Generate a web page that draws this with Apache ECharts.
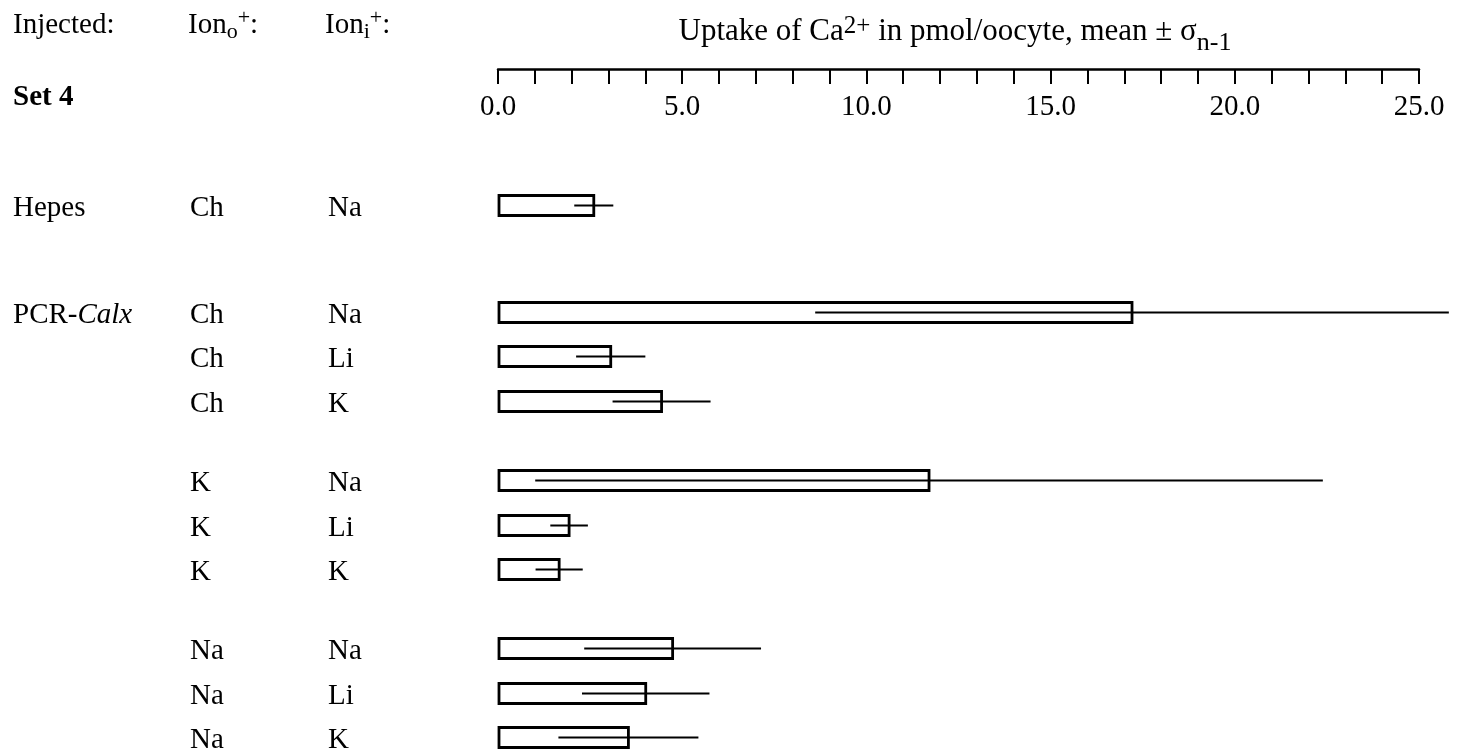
<!DOCTYPE html>
<html>
<head>
<meta charset="utf-8">
<script src="https://cdn.jsdelivr.net/npm/echarts@6/dist/echarts.min.js"></script>
<style>
html,body{margin:0;padding:0;background:#fff;}
#chart{width:1457px;height:752px;}
</style>
</head>
<body>
<div id="chart"></div>
<script>
// ---- data ----
const injected = ['Hepes', 'PCR-Calx', '', '', '', '', '', '', '', ''];
const ionOut   = ['Ch', 'Ch', 'Ch', 'Ch', 'K', 'K', 'K', 'Na', 'Na', 'Na'];
const ionIn    = ['Na', 'Na', 'Li', 'K', 'Na', 'Li', 'K', 'Na', 'Li', 'K'];
const meanUptake = [2.60, 17.21, 3.06, 4.44, 11.70, 1.93, 1.66, 4.74, 4.01, 3.54];
const sdUptake   = [0.53, 8.60, 0.94, 1.33, 10.69, 0.51, 0.64, 2.40, 1.73, 1.90];
const tickMajor = [0, 5, 10, 15, 20, 25];

// ---- layout ----
const FONT = "'Liberation Serif', 'DejaVu Serif', serif";
const FS = 29;
const gridLeft = 498, gridRight = 1419, gridTop = 69, bottomY = 752;
const firstRowY = 205, rowStep = 44.5;
const colX = [13, 190, 328];

// row positions (in row units): extra gap when a new group starts
const rowPos = [];
let p = 0;
for (let i = 0; i < meanUptake.length; i++) {
  if (i > 0) {
    p += 1;
    if (injected[i] !== '') p += 1.4;
    else if (ionOut[i] !== ionOut[i - 1]) p += 0.78;
  }
  rowPos.push(p);
}
const yMin = -(firstRowY - gridTop) / rowStep;
const yMax = yMin + (bottomY - gridTop) / rowStep;

const seriesData = meanUptake.map((m, i) => [m, rowPos[i], sdUptake[i]]);

function renderItem(params, api) {
  const i = params.dataIndex;
  const mean = api.value(0), pos = api.value(1), sd = api.value(2);
  const p0 = api.coord([0, pos]);
  const p1 = api.coord([mean, pos]);
  const pl = api.coord([mean - sd, pos]);
  const pr = api.coord([mean + sd, pos]);
  const h = 20;
  const y = Math.round(p0[1]) + 0.5;
  const children = [
    { type: 'rect', shape: { x: p0[0] + 1, y: y - h / 2, width: p1[0] - p0[0] - 1, height: h },
      style: { fill: '#fff', stroke: '#000', lineWidth: 2.8 } },
    { type: 'line', shape: { x1: pl[0], y1: y, x2: pr[0], y2: y },
      style: { stroke: '#000', lineWidth: 2.2 } }
  ];
  const ty = y + 3;
  if (injected[i]) {
    let txt = injected[i];
    if (txt.indexOf('PCR-') === 0) txt = '{n|PCR-}{it|' + txt.slice(4) + '}';
    else txt = '{n|' + txt + '}';
    children.push({ type: 'text', x: colX[0], y: ty,
      style: { text: txt, fill: '#000', align: 'left', verticalAlign: 'middle',
        rich: { n: { fontFamily: FONT, fontSize: FS, fill: '#000' },
                it: { fontFamily: FONT, fontSize: FS, fontStyle: 'italic', fill: '#000' } } } });
  }
  children.push({ type: 'text', x: colX[1], y: ty,
    style: { text: ionOut[i], fill: '#000', font: FS + 'px ' + FONT, align: 'left', verticalAlign: 'middle' } });
  children.push({ type: 'text', x: colX[2], y: ty,
    style: { text: ionIn[i], fill: '#000', font: FS + 'px ' + FONT, align: 'left', verticalAlign: 'middle' } });
  return { type: 'group', children };
}

const richHead = {
  n: { fontFamily: FONT, fontSize: FS, fill: '#000', verticalAlign: 'middle' },
  sub: { fontFamily: FONT, fontSize: 22, fill: '#000', verticalAlign: 'middle', padding: [14, 0, 0, 0] },
  sup: { fontFamily: FONT, fontSize: 22, fill: '#000', verticalAlign: 'middle', padding: [0, 0, 14, 0] }
};

const chart = echarts.init(document.getElementById('chart'), null, { renderer: 'canvas' });
chart.setOption({
  animation: false,
  backgroundColor: '#fff',
  grid: { left: gridLeft, width: gridRight - gridLeft, top: gridTop, height: bottomY - gridTop },
  xAxis: {
    type: 'value', position: 'top', min: 0, max: 25, interval: 1,
    axisLine: { show: true, onZero: false, lineStyle: { color: '#000', width: 2.5 } },
    axisTick: { show: true, inside: true, length: 15, lineStyle: { color: '#000', width: 2 } },
    axisLabel: { show: true, inside: true, margin: 24, color: '#000', fontFamily: FONT, fontSize: FS,
      showMinLabel: true, showMaxLabel: true,
      formatter: v => tickMajor.indexOf(Math.round(v)) >= 0 ? v.toFixed(1) : '' },
    splitLine: { show: false }
  },
  yAxis: { type: 'value', inverse: true, min: yMin, max: yMax, show: false },
  series: [{
    type: 'custom', renderItem, clip: false, data: seriesData,
    encode: { x: 0, y: 1 }
  }],
  graphic: [
    { type: 'text', x: 13, y: 25, style: { text: 'Injected:', font: FS + 'px ' + FONT, fill: '#000', verticalAlign: 'middle' } },
    { type: 'text', x: 188, y: 25, style: { text: '{n|Ion}{sub|o}{sup|+}{n|:}', verticalAlign: 'middle', rich: richHead } },
    { type: 'text', x: 325, y: 25, style: { text: '{n|Ion}{sub|i}{sup|+}{n|:}', verticalAlign: 'middle', rich: richHead } },
    { type: 'text', x: 13, y: 98, style: { text: 'Set 4', font: 'bold ' + FS + 'px ' + FONT, fill: '#000', verticalAlign: 'middle' } },
    { type: 'text', x: 955, y: 32, style: {
        text: '{n|Uptake of Ca}{sup|2+}{n| in pmol/oocyte, mean ± σ}{sub|n-1}', align: 'center', verticalAlign: 'middle',
        rich: { n: { fontFamily: FONT, fontSize: 31, fill: '#000', verticalAlign: 'middle' },
                sup: { fontFamily: FONT, fontSize: 25, fill: '#000', verticalAlign: 'middle', padding: [0, 0, 12, 0] },
                sub: { fontFamily: FONT, fontSize: 26, fill: '#000', verticalAlign: 'middle', padding: [22, 0, 0, 0] } } } }
  ]
});
</script>
</body>
</html>
